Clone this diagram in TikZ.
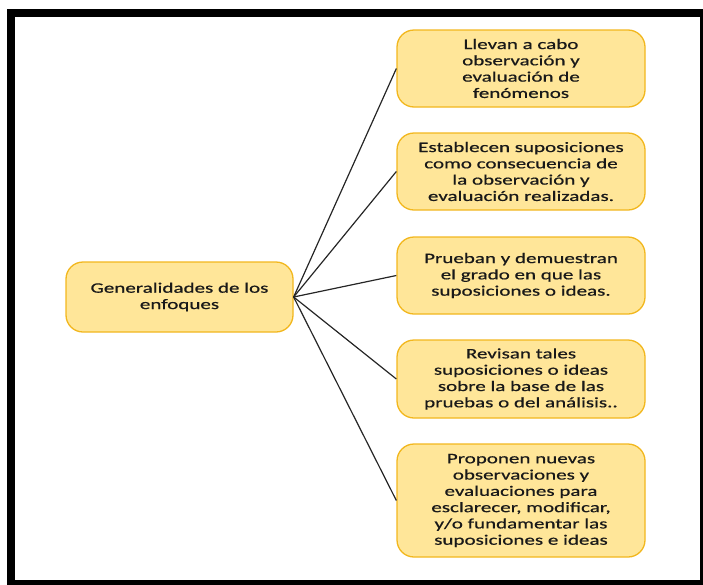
\documentclass[tikz,border=0pt]{standalone}
\usepackage{fontspec}
\setmainfont{Carlito}[FakeStretch=1.45,FakeBold=0.6]
\usetikzlibrary{positioning}
\definecolor{boxfill}{RGB}{255,230,153}
\definecolor{boxline}{RGB}{242,183,30}
\tikzset{%
idea/.style={draw=boxline,fill=boxfill,line width=1.3pt,rounded corners=17pt,
  align=center,inner sep=2pt,font=\fontsize{14.5}{16.3}\selectfont,text=black!90,
  minimum width=248pt,minimum height=#1},
idea/.default=77pt,
link/.style={line width=1.2pt,black!85}
}
\begin{document}
\begin{tikzpicture}[x=1pt,y=-1pt]
\useasboundingbox (0,0) rectangle (703,584);
\clip (0,0) rectangle (703,584);
\draw[line width=8pt] (11,13) rectangle (704,584);
\node[idea=70pt,minimum width=227pt] (gen) at (179.5,297) {Generalidades de los\\enfoques};
\node[idea] (obs) at (521,68.5) {Llevan a cabo\\observación y\\evaluación de\\fenómenos};
\node[idea] (sup) at (521,171.5) {Establecen suposiciones\\como consecuencia de\\la observación y\\evaluación realizadas.};
\node[idea] (pru) at (521,275.5) {Prueban y demuestran\\el grado en que las\\suposiciones o ideas.};
\node[idea=78pt] (rev) at (521,379) {Revisan tales\\suposiciones o ideas\\sobre la base de las\\pruebas o del análisis..};
\node[idea=113pt] (pro) at (521,500.5) {Proponen nuevas\\observaciones y\\evaluaciones para\\esclarecer, modificar,\\y/o fundamentar las\\suposiciones e ideas};
\foreach \n in {obs,sup,pru,rev,pro}
  \draw[link] (gen.east) -- (\n.west);
\end{tikzpicture}
\end{document}
